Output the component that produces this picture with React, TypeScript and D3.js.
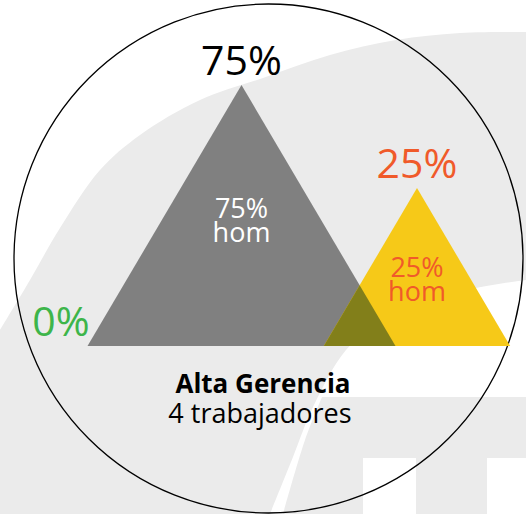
import React, { useEffect, useRef } from "react";
import * as d3 from "d3";

// datos del gráfico
const groups = ["verde", "gris", "amarillo"];
const values = [0, 75, 25];
const innerText = ["", "hom", "hom"];
const title = "Alta Gerencia";
const subtitle = "4 trabajadores";

const W = 526;
const H = 514;
const FONT = "'Open Sans', 'Noto Sans', sans-serif";

const fills: Record<string, string> = { verde: "#3db54a", gris: "#808080", amarillo: "#f6c918" };
const topColors: Record<string, string> = { verde: "#3db54a", gris: "#000000", amarillo: "#f05a2a" };
const innerColors: Record<string, string> = { verde: "#3db54a", gris: "#ffffff", amarillo: "#f05a2a" };

export default function App() {
  const ref = useRef<SVGSVGElement>(null);

  useEffect(() => {
    const svg = d3.select(ref.current);
    svg.selectAll("*").remove();

    // marca de agua del fondo
    const bg = svg.append("g");
    const curve = d3.line().curve(d3.curveCatmullRom.alpha(0.5));
    const outer: [number, number][] = [
      [0, 330], [30, 280], [60, 228], [100, 170], [140, 135], [200, 100],
      [263, 78], [330, 55], [396, 40], [460, 33], [526, 32],
    ];
    const inner: [number, number][] = [
      [526, 280], [476, 288], [420, 303], [380, 322], [346, 350],
      [313, 407], [293, 457], [270, 514],
    ];
    bg.append("path")
      .attr("d", curve(outer) + "L526,280" + curve(inner)!.slice(1).replace(/^[^C]*/, "") + "L0,514Z")
      .attr("fill", "#ebebeb");
    const edge2: [number, number][] = [[283, 514], [305, 440], [322, 397]];
    bg.append("path")
      .attr("d", curve(edge2) + "L526,397L526,514Z")
      .attr("fill", "#ebebeb");
    bg.append("rect").attr("x", 363).attr("y", 458).attr("width", 53).attr("height", 56).attr("fill", "#fff");
    bg.append("rect").attr("x", 487).attr("y", 458).attr("width", 39).attr("height", 56).attr("fill", "#fff");

    // círculo
    svg.append("circle")
      .attr("cx", 268.5).attr("cy", 258.5).attr("r", 254.5)
      .attr("fill", "none").attr("stroke", "#000").attr("stroke-width", 1.3);

    // escalas
    const base = 346;
    const x = d3.scalePoint<string>().domain(groups).range([66, 417]);
    const h = d3.scalePow().exponent(0.457).domain([0, 75]).range([0, 261]);
    const slope = 0.59;

    const tri = (i: number) => {
      const cx = x(groups[i])!;
      const hh = h(values[i]);
      const p = d3.path();
      p.moveTo(cx - hh * slope, base);
      p.lineTo(cx, base - hh);
      p.lineTo(cx + hh * slope, base);
      p.closePath();
      return p.toString();
    };

    const idx = d3.range(groups.length).filter((i) => values[i] > 0);

    svg.append("defs").append("clipPath").attr("id", "clipGris")
      .append("path").attr("d", tri(groups.indexOf("gris")));

    svg.append("g").selectAll("path")
      .data(idx)
      .enter()
      .append("path")
      .attr("d", (i) => tri(i))
      .attr("fill", (i) => fills[groups[i]]);

    // zona donde se cruzan
    svg.append("path")
      .attr("d", tri(groups.indexOf("amarillo")))
      .attr("clip-path", "url(#clipGris)")
      .attr("fill", "#827f1a");

    // etiquetas de arriba
    svg.append("g").selectAll("text")
      .data(d3.range(groups.length))
      .enter()
      .append("text")
      .attr("x", (i) => x(groups[i])! + (values[i] === 0 ? -5 : 0))
      .attr("y", (i) => base - h(values[i]) - 10)
      .attr("text-anchor", "middle")
      .attr("font-family", FONT)
      .attr("font-size", 41)
      .attr("fill", (i) => topColors[groups[i]])
      .text((i) => values[i] + "%");

    // etiquetas dentro
    const inside = svg.append("g").selectAll("text")
      .data(idx)
      .enter()
      .append("text")
      .attr("text-anchor", "middle")
      .attr("font-family", FONT)
      .attr("font-size", 27)
      .attr("fill", (i) => innerColors[groups[i]]);
    inside.append("tspan")
      .attr("x", (i) => x(groups[i])!)
      .attr("y", (i) => base - h(values[i]) + 0.427 * h(values[i]) + 21.5)
      .text((i) => values[i] + "%");
    inside.append("tspan")
      .attr("x", (i) => x(groups[i])!)
      .attr("dy", 24)
      .text((i) => innerText[i]);

    // título
    svg.append("text")
      .attr("x", 263).attr("y", 393)
      .attr("text-anchor", "middle")
      .attr("font-family", FONT)
      .attr("font-weight", "bold")
      .attr("font-size", 26)
      .text(title);
    svg.append("text")
      .attr("x", 260).attr("y", 423)
      .attr("text-anchor", "middle")
      .attr("font-family", FONT)
      .attr("font-size", 27)
      .text(subtitle);
  }, []);

  return (
    <div style={{ position: "absolute", left: 0, top: 0 }}>
      <svg ref={ref} width={W} height={H} style={{ display: "block", background: "#fff" }} />
    </div>
  );
}
